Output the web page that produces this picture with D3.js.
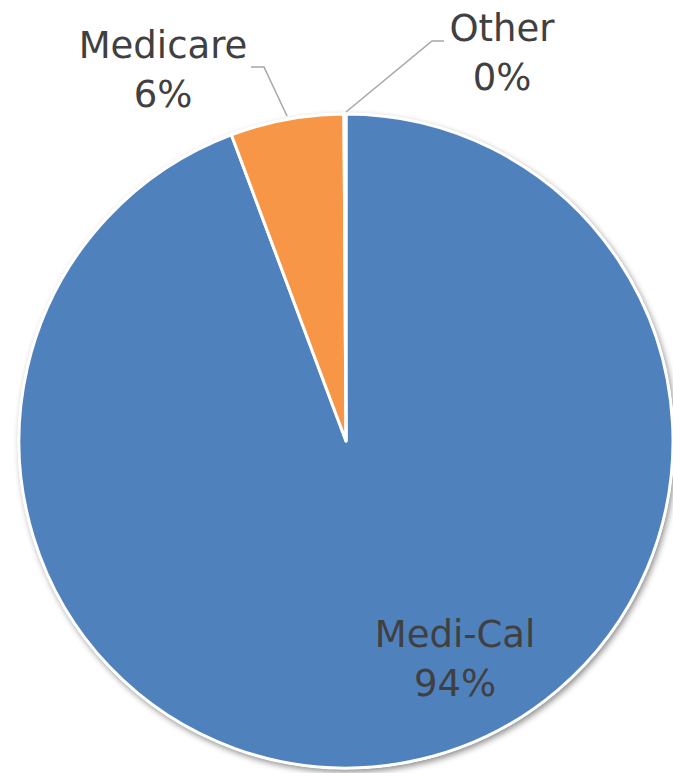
<!DOCTYPE html>
<html>
<head>
<meta charset="utf-8">
<script src="https://cdn.jsdelivr.net/npm/d3@7"></script>
<style>
  html, body { margin: 0; padding: 0; background: #fff; }
  svg { display: block; }
  text { font-family: 'DejaVu Sans', sans-serif; fill: #404040; }
</style>
</head>
<body>
<svg width="673" height="773"></svg>
<script>
const categories = ['Medi-Cal', 'Medicare', 'Other']
const values = [94.3, 5.6, 0.1]
const colors = ['#4f81bd', '#f79646', '#9bbb59']

// label placement (text centre x, first baseline y) and leader lines
const labelPos = [[455, 647], [163, 58], [502, 41]]
const leaders = [null, [[251, 67], [264, 67], [287, 116]], [[444, 41], [432, 41], [346, 112]]]

const cx = 346
const cy = 441
const radius = 327

const svg = d3.select('svg')

const defs = svg.append('defs')
const f = defs.append('filter').attr('id', 'shadow')
  .attr('x', '-10%').attr('y', '-10%').attr('width', '120%').attr('height', '120%')
f.append('feDropShadow')
  .attr('dx', 2).attr('dy', 3).attr('stdDeviation', 3)
  .attr('flood-color', '#000').attr('flood-opacity', 0.45)

const pie = d3.pie().sort(null).value(d => d.v)
const arcs = pie(categories.map((c, i) => ({ c, v: values[i], i })))
const arc = d3.arc().innerRadius(0).outerRadius(radius)

const g = svg.append('g').attr('transform', `translate(${cx},${cy})`)

g.append('circle').attr('r', radius + 1)
  .attr('fill', '#fff')
  .attr('filter', 'url(#shadow)')

g.selectAll('path.slice').data(arcs).enter()
  .append('path')
  .attr('class', 'slice')
  .attr('d', arc)
  .attr('fill', d => colors[d.data.i])
  .attr('stroke', '#fff')
  .attr('stroke-width', 3)
  .attr('stroke-linejoin', 'round')

// leader lines
leaders.forEach(pts => {
  if (!pts) return
  svg.append('path')
    .attr('d', d3.line()(pts))
    .attr('fill', 'none')
    .attr('stroke', '#a6a6a6')
    .attr('stroke-width', 1.5)
})

const labels = svg.selectAll('text.lbl').data(arcs).enter()
  .append('text')
  .attr('class', 'lbl')
  .attr('text-anchor', 'middle')
  .attr('font-size', 37)

labels.append('tspan')
  .attr('x', d => labelPos[d.data.i][0])
  .attr('y', d => labelPos[d.data.i][1])
  .text(d => d.data.c)
labels.append('tspan')
  .attr('x', d => labelPos[d.data.i][0])
  .attr('y', d => labelPos[d.data.i][1] + 49)
  .text(d => Math.round(d.data.v) + '%')
</script>
</body>
</html>
